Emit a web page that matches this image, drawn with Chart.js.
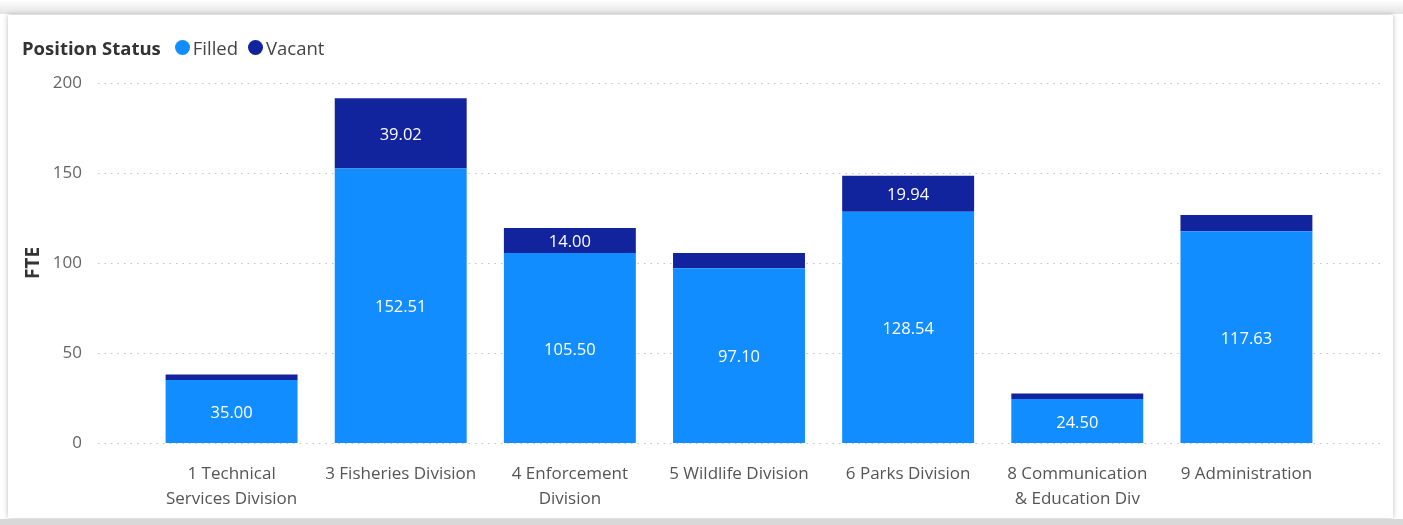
<!DOCTYPE html>
<html>
<head>
<meta charset="utf-8">
<script src="https://cdn.jsdelivr.net/npm/chart.js@4.4.1/dist/chart.umd.min.js"></script>
<style>
  html, body { margin: 0; padding: 0; background: #fff; }
  body { width: 1403px; height: 525px; position: relative; overflow: hidden; font-family: "Segoe UI", "Open Sans", sans-serif; }
  .topstrip { position: absolute; left: 0; top: 0; width: 1403px; height: 14px;
    background: linear-gradient(#fff, #e4e4e4); }
  .card { position: absolute; left: 8px; top: 15px; width: 1385px; height: 503px; background: #fff;
    box-shadow: 0 0 5px rgba(0,0,0,0.28); }
  .bottomstrip { position: absolute; left: 0; top: 519px; width: 1403px; height: 6px; background: #d8d8d8; }
  #wrap { position: absolute; left: 0; top: 0; width: 1403px; height: 525px; }
  .legend { position: absolute; left: 22px; top: 34px; height: 26px; font-size: 18.5px; color: #444;
    display: flex; align-items: center; white-space: nowrap; }
  .legend b { color: #333; margin-right: 14px; }
  .legend .dot { width: 15px; height: 15px; border-radius: 50%; display: inline-block; margin-right: 3px; }
  .legend .item { display: flex; align-items: center; margin-right: 10px; }
</style>
</head>
<body>
<div class="topstrip"></div>
<div class="card"></div>
<div class="bottomstrip"></div>
<div id="wrap"><canvas id="chart"></canvas></div>
<div class="legend">
  <b>Position Status</b>
  <span class="item"><span class="dot" style="background:#118DFF"></span>Filled</span>
  <span class="item"><span class="dot" style="background:#12239E"></span>Vacant</span>
</div>
<script>
// divisions and FTE counts
const divisions = [
    ['1 Technical', 'Services Division'],
    '3 Fisheries Division',
    ['4 Enforcement', 'Division'],
    '5 Wildlife Division',
    '6 Parks Division',
    ['8 Communication', '& Education Div'],
    '9 Administration'
];
const filled = [35.00, 152.51, 105.50, 97.10, 128.54, 24.50, 117.63];
const vacant = [3.00, 39.02, 14.00, 8.50, 19.94, 3.00, 9.00];
const yTicks = [0, 50, 100, 150, 200];

const FILLED_COLOR = '#118DFF';
const VACANT_COLOR = '#12239E';
const FONT = '"Segoe UI", "Open Sans", sans-serif';

// dotted gridlines that run wider than the bars, like in Power BI
const dottedGrid = {
    id: 'dottedGrid',
    beforeDatasetsDraw(chart) {
        const ctx = chart.ctx;
        const y = chart.scales.y;
        ctx.save();
        ctx.strokeStyle = '#c4c4c4';
        ctx.lineWidth = 1;
        ctx.setLineDash([1.5, 5]);
        y.ticks.forEach(t => {
            const py = Math.round(y.getPixelForValue(t.value)) + 0.5;
            ctx.beginPath();
            ctx.moveTo(98, py);
            ctx.lineTo(1382, py);
            ctx.stroke();
        });
        ctx.restore();
    }
};

// value labels inside the segments, skipped when the segment is too thin
const barLabels = {
    id: 'barLabels',
    afterDatasetsDraw(chart) {
        const ctx = chart.ctx;
        ctx.save();
        ctx.fillStyle = '#ffffff';
        ctx.font = '16.5px ' + FONT;
        ctx.textAlign = 'center';
        ctx.textBaseline = 'middle';
        chart.data.datasets.forEach((ds, i) => {
            chart.getDatasetMeta(i).data.forEach((bar, j) => {
                const p = bar.getProps(['x', 'y', 'base'], true);
                const h = Math.abs(p.base - p.y);
                if (h < 22) return;
                ctx.fillText(ds.data[j].toFixed(2), p.x, (p.y + p.base) / 2 + 2);
            });
        });
        ctx.restore();
    }
};

new Chart(document.getElementById('chart'), {
    type: 'bar',
    data: {
        labels: divisions,
        datasets: [
            { label: 'Filled', data: filled, backgroundColor: FILLED_COLOR },
            { label: 'Vacant', data: vacant, backgroundColor: VACANT_COLOR }
        ]
    },
    options: {
        responsive: true,
        maintainAspectRatio: false,
        animation: false,
        layout: { padding: { top: 83, left: 0, right: 72, bottom: 0 } },
        plugins: {
            legend: { display: false },
            tooltip: { enabled: false }
        },
        datasets: {
            bar: { barPercentage: 0.78, categoryPercentage: 1.0 }
        },
        scales: {
            x: {
                stacked: true,
                afterFit(scale) {
                    scale.height = 82;
                },
                grid: { display: false, drawTicks: false },
                border: { display: false },
                ticks: {
                    color: '#555',
                    font: { size: 17, family: FONT, lineHeight: 1.45 },
                    maxRotation: 0,
                    autoSkip: false,
                    padding: 19
                }
            },
            y: {
                stacked: true,
                min: 0,
                max: 200,
                afterBuildTicks(scale) {
                    scale.ticks = yTicks.map(v => ({ value: v }));
                },
                afterFit(scale) {
                    scale.width = 147;
                },
                grid: { display: false, drawTicks: false },
                border: { display: false },
                ticks: {
                    color: '#666',
                    font: { size: 17, family: FONT },
                    padding: 65
                },
                title: {
                    display: true,
                    text: 'FTE',
                    color: '#333',
                    font: { size: 19, weight: 'bold', family: FONT },
                    padding: { top: 22, bottom: 4 }
                }
            }
        }
    },
    plugins: [dottedGrid, barLabels]
});
</script>
</body>
</html>
